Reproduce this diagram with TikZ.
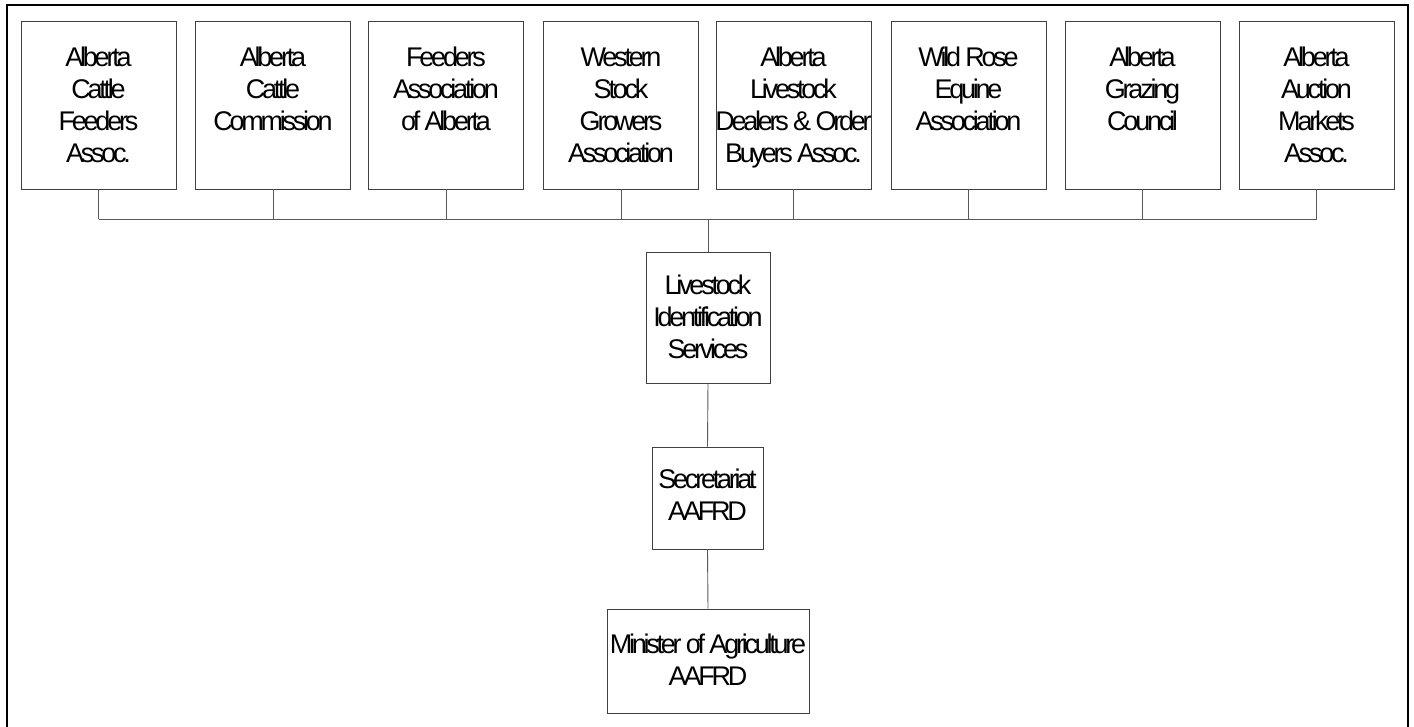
\documentclass[tikz,border=0pt]{standalone}
\usepackage{fontspec}
\setmainfont[LetterSpace=-12]{Liberation Sans}
\newcommand\boxcontent[4]{\parbox[c][#2][t]{#1}{\centering\fontsize{27}{32.3}\selectfont\rule{0pt}{#3}#4}}
\tikzset{
  orgbox/.style={draw=black!75, line width=0.9pt, inner sep=0pt, rectangle, text=black},
  link/.style={draw=black!65, line width=0.9pt},
  frame/.style={draw=black, line width=2pt}
}
\begin{document}
\begin{tikzpicture}[x=1pt,y=-1pt]
\useasboundingbox (0,0) rectangle (1414,726);
\draw[frame] (7,727) -- (7,5) -- (1408,5) -- (1408,727);

\node[orgbox] (b1) at (98.5,105) {\boxcontent{155pt}{168pt}{45pt}{Alberta\\Cattle\\Feeders\\Assoc.}};
\node[orgbox] (b2) at (273,105) {\boxcontent{155pt}{168pt}{45pt}{Alberta\\Cattle\\Commission}};
\node[orgbox] (b3) at (446,105) {\boxcontent{155pt}{168pt}{45pt}{Feeders\\Association\\of Alberta}};
\node[orgbox] (b4) at (621,105) {\boxcontent{155pt}{168pt}{45pt}{Western\\Stock\\Growers\\Association}};
\node[orgbox] (b5) at (793.5,105) {\boxcontent{155pt}{168pt}{45pt}{Alberta\\Livestock\\\makebox[\linewidth]{Dealers \& Order}\\Buyers Assoc.}};
\node[orgbox] (b6) at (968.5,105) {\boxcontent{155pt}{168pt}{45pt}{Wild Rose\\Equine\\Association}};
\node[orgbox] (b7) at (1142.5,105) {\boxcontent{155pt}{168pt}{45pt}{Alberta\\Grazing\\Council}};
\node[orgbox] (b8) at (1316.5,105) {\boxcontent{155pt}{168pt}{45pt}{Alberta\\Auction\\Markets\\Assoc.}};

\node[orgbox] (lis) at (708,317.5) {\boxcontent{124pt}{131pt}{42pt}{Livestock\\Identification\\Services}};
\node[orgbox] (sec) at (707.5,498) {\boxcontent{111pt}{102pt}{41pt}{Secretariat\\AAFRD}};
\node[orgbox] (min) at (708,661) {\boxcontent{202pt}{104pt}{44pt}{Minister of Agriculture\\AAFRD}};

\coordinate (bus) at (708,219);
\foreach \i in {1,...,8} {\draw[link] (b\i.south) -- (b\i.south |- bus);}
\draw[link] (b1.south |- bus) -- (b8.south |- bus);
\draw[link] (lis.north) -- (lis.north |- bus);
\draw[link] (lis.south) -- (sec.north);
\draw[link] (sec.south) -- (min.north);
\end{tikzpicture}
\end{document}
